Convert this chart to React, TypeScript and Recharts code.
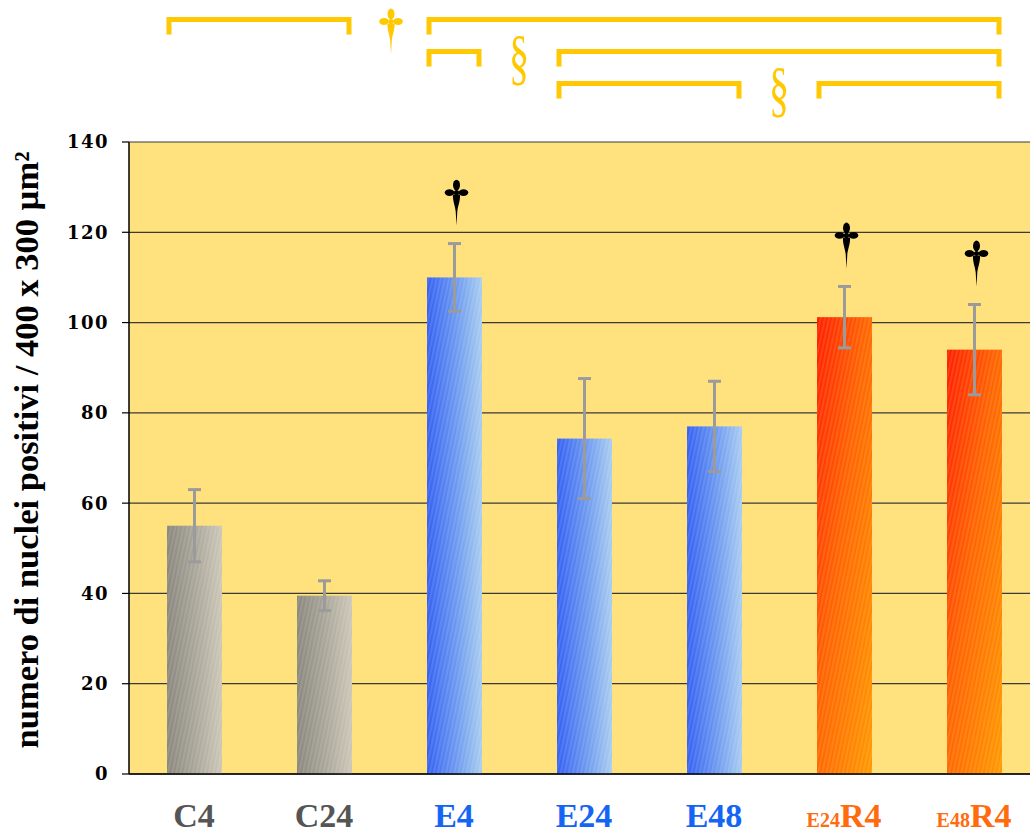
import React from "react";
import {
  Bar,
  BarChart,
  CartesianGrid,
  Cell,
  Customized,
  ErrorBar,
  LabelList,
  XAxis,
  YAxis,
} from "recharts";

// values
const categories = ["C4", "C24", "E4", "E24", "E48", "E24R4", "E48R4"];
const means = [55, 39.5, 110, 74.3, 77, 101.2, 94];
const errors = [8, 3.3, 7.5, 13.3, 10, 6.8, 10];
const groups = ["ctrl", "ctrl", "exp", "exp", "exp", "rec", "rec"];
const marked = [false, false, true, false, false, true, true];
const yTicks = [0, 20, 40, 60, 80, 100, 120, 140];

// comparisons drawn above the plot: left span, symbol, right span (category indexes)
const comparisons = [
  { left: [0, 1], symbol: "dagger", right: [2, 6] },
  { left: [2, 2], symbol: "§", right: [3, 6] },
  { left: [3, 4], symbol: "§", right: [5, 6] },
];

const CHART_W = 1039;
const CHART_H = 835;
const MARGIN = { top: 142, right: 0, bottom: 0, left: 0 };
const YAXIS_W = 129;
const XAXIS_H = 61;
const BAR_SIZE = 55;
const Y_MAX = 140;

const PLOT_LEFT = MARGIN.left + YAXIS_W;
const PLOT_W = CHART_W - PLOT_LEFT - MARGIN.right;
const PLOT_H = CHART_H - MARGIN.top - MARGIN.bottom - XAXIS_H;
const PLOT_BOTTOM = MARGIN.top + PLOT_H;
const BAND = PLOT_W / categories.length;
const PX_PER_UNIT = PLOT_H / Y_MAX;

const YELLOW = "#FFC800";
const LABEL_COLORS: Record<string, string> = {
  ctrl: "#555555",
  exp: "#1565F5",
  rec: "#FF6B0F",
};
const BAR_FILLS: Record<string, string> = {
  ctrl: "url(#grad-ctrl)",
  exp: "url(#grad-exp)",
  rec: "url(#grad-rec)",
};

const data = categories.map((name, i) => ({
  name,
  mean: means[i],
  err: errors[i],
  group: groups[i],
  markTop: marked[i] ? means[i] + errors[i] : null,
}));

const barLeft = (i: number) => PLOT_LEFT + i * BAND + (BAND - BAR_SIZE) / 2;
const barRight = (i: number) => barLeft(i) + BAR_SIZE;

function Dagger({ cx, cy, color }: { cx: number; cy: number; color: string }) {
  return (
    <g transform={`translate(${cx},${cy})`} fill={color}>
      <ellipse cx={0} cy={-7.5} rx={3.5} ry={5.4} />
      <ellipse cx={-7} cy={0} rx={4.8} ry={3.4} />
      <ellipse cx={7} cy={0} rx={4.8} ry={3.4} />
      <circle cx={0} cy={0} r={2.6} />
      <path d="M -3.6 2 C -3.8 9, -1.4 13, -0.8 19 L 0 33 L 0.8 19 C 1.4 13, 3.8 9, 3.6 2 Z" />
    </g>
  );
}

function Section({ cx, cy }: { cx: number; cy: number }) {
  return (
    <text
      transform={`translate(${cx},${cy}) scale(0.65,1)`}
      textAnchor="middle"
      fill={YELLOW}
      fontFamily="'Liberation Serif', serif"
      fontSize={62}
    >
      §
    </text>
  );
}

function Brackets() {
  const rowY = [19.5, 51.5, 83.5];
  return (
    <g>
      {comparisons.map((c, r) => {
        const y = rowY[r];
        const l1 = barLeft(c.left[0]) + 2.5;
        const l2 = barRight(c.left[1]) - 2.5;
        const r1 = barLeft(c.right[0]) + 2.5;
        const r2 = barRight(c.right[1]) - 2.5;
        const mid = (barRight(c.left[1]) + barLeft(c.right[0])) / 2;
        return (
          <g key={r}>
            <path
              d={`M ${l1} ${y + 15} V ${y} H ${l2} V ${y + 15}`}
              fill="none"
              stroke={YELLOW}
              strokeWidth={5}
            />
            <path
              d={`M ${r1} ${y + 15} V ${y} H ${r2} V ${y + 15}`}
              fill="none"
              stroke={YELLOW}
              strokeWidth={5}
            />
            {c.symbol === "dagger" ? (
              <Dagger cx={mid + 2} cy={y + 2} color={YELLOW} />
            ) : (
              <Section cx={mid} cy={y + 26} />
            )}
          </g>
        );
      })}
    </g>
  );
}

function DaggerLabel(props: any) {
  const { x, width, value } = props;
  if (value == null) return null;
  const errTop = PLOT_BOTTOM - Number(value) * PX_PER_UNIT;
  return (
    <Dagger cx={Number(x) + Number(width) / 2 + 2} cy={errTop - 51} color="#000" />
  );
}

function HatchedBar(props: any) {
  const { x, y, width, height, fill } = props;
  if (!height || height <= 0) return null;
  return (
    <g>
      <rect x={x} y={y} width={width} height={height} fill={fill} />
      <rect x={x} y={y} width={width} height={height} fill="url(#hatch)" />
    </g>
  );
}

function CategoryTick(props: any) {
  const { x, payload } = props;
  const name = String(payload.value);
  const i = categories.indexOf(name);
  const color = LABEL_COLORS[groups[i]];
  const m = /^(E\d+)(R\d+)$/.exec(name);
  return (
    <text
      x={x}
      y={PLOT_BOTTOM + 53}
      textAnchor="middle"
      fill={color}
      fontFamily="'Liberation Serif', serif"
      fontWeight="bold"
      fontSize={34}
    >
      {m ? (
        <>
          <tspan fontSize={20}>{m[1]}</tspan>
          <tspan>{m[2]}</tspan>
        </>
      ) : (
        name
      )}
    </text>
  );
}

function YLabel() {
  const cx = 38;
  const cy = 450;
  return (
    <text
      x={cx}
      y={cy}
      transform={`rotate(-90, ${cx}, ${cy})`}
      textAnchor="middle"
      fill="#000"
      fontFamily="'Liberation Serif', serif"
      fontWeight="bold"
      fontSize={34.5}
    >
      numero di nuclei positivi / 400 x 300 µm²
    </text>
  );
}

export default function App() {
  return (
    <div
      style={{
        position: "fixed",
        left: 0,
        top: 0,
        width: 1030,
        height: 835,
        overflow: "hidden",
        background: "#ffffff",
      }}
    >
      <BarChart width={CHART_W} height={CHART_H} data={data} margin={MARGIN}>
        <defs>
          <linearGradient id="grad-ctrl" x1="0" y1="0" x2="1" y2="0">
            <stop offset="0" stopColor="#8a877e" />
            <stop offset="0.5" stopColor="#a9a599" />
            <stop offset="1" stopColor="#cdc7b7" />
          </linearGradient>
          <linearGradient id="grad-exp" x1="0" y1="0" x2="1" y2="0">
            <stop offset="0" stopColor="#3461f3" />
            <stop offset="0.55" stopColor="#6f9bf0" />
            <stop offset="1" stopColor="#a9cdf0" />
          </linearGradient>
          <linearGradient id="grad-rec" x1="0" y1="0" x2="1" y2="1">
            <stop offset="0" stopColor="#ff1e00" />
            <stop offset="0.45" stopColor="#ff6400" />
            <stop offset="1" stopColor="#ff9a00" />
          </linearGradient>
          <pattern
            id="hatch"
            patternUnits="userSpaceOnUse"
            width={4}
            height={14}
            patternTransform="rotate(12)"
          >
            <line x1={1} y1={0} x2={1} y2={14} stroke="#ffffff" strokeOpacity={0.14} strokeWidth={1.4} />
          </pattern>
        </defs>
        <CartesianGrid
          vertical={false}
          stroke="#3a3a3a"
          strokeWidth={1.2}
          fill="#FFE27E"
          fillOpacity={1}
        />
        <XAxis
          dataKey="name"
          height={XAXIS_H}
          tickLine={false}
          axisLine={{ stroke: "#000", strokeWidth: 1.5 }}
          tick={<CategoryTick />}
          interval={0}
        />
        <YAxis
          width={YAXIS_W}
          domain={[0, Y_MAX]}
          ticks={yTicks}
          interval={0}
          tickSize={7}
          tickMargin={13}
          axisLine={{ stroke: "#000", strokeWidth: 1.5 }}
          tickLine={{ stroke: "#000", strokeWidth: 1.2 }}
          tick={{
            fill: "#000",
            fontFamily: "'DejaVu Serif', serif",
            fontWeight: "bold",
            fontSize: 18,
            letterSpacing: 1.5,
          }}
          label={<YLabel />}
        />
        <Bar
          dataKey="mean"
          barSize={BAR_SIZE}
          isAnimationActive={false}
          shape={<HatchedBar />}
        >
          {data.map((d, i) => (
            <Cell key={`c-${i}`} fill={BAR_FILLS[d.group]} />
          ))}
          <ErrorBar
            dataKey="err"
            direction="y"
            width={6.5}
            strokeWidth={3}
            stroke="#9b9b9b"
            isAnimationActive={false}
          />
          <LabelList dataKey="markTop" content={<DaggerLabel />} />
        </Bar>
        <Customized component={<Brackets />} />
      </BarChart>
    </div>
  );
}
